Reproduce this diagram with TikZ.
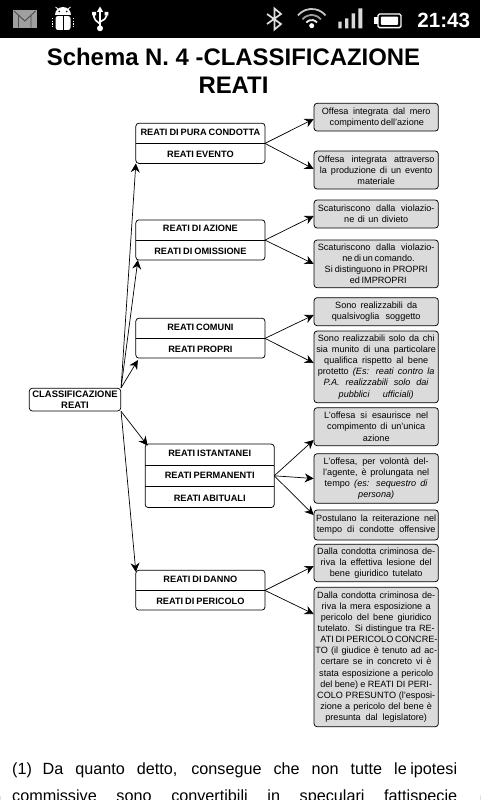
\documentclass[tikz,border=0pt]{standalone}
\usepackage{fontspec}
\setmainfont{Liberation Sans}
\newfontfamily\partfamily[WordSpace=0.78]{Liberation Sans}
\usetikzlibrary{arrows.meta}
\definecolor{boxgray}{gray}{0.86}
\newcommand{\fl}[2]{\makebox[#1pt][s]{#2}}

\tikzset{
  part/.style={minimum width=128.7pt, minimum height=19.8pt, inner sep=0pt, font=\partfamily\fontsize{9.2}{10}\selectfont\bfseries},
  parttop/.style={part, text depth=3pt},
  partbot/.style={part, text height=8.7pt},
  outer/.style={draw, rounded corners=3pt, line width=0.75pt},
  divider/.style={line width=0.75pt},
  note/.style={draw, fill=boxgray, rounded corners=3pt, line width=0.75pt, inner sep=0pt, minimum width=124.3pt, align=center, font=\fontsize{9.1}{11.1}\selectfont},
  branch/.style={->, line width=0.7pt},
  footline/.style={anchor=base west, inner sep=0pt, font=\fontsize{16.2}{18}\selectfont},
}

\begin{document}
\begin{tikzpicture}[x=1pt, y=-1pt, >={Stealth[length=9pt, width=9pt, inset=3pt]}]
  \useasboundingbox (0, 0) rectangle (480, 800);
  \clip (0, 0) rectangle (480, 800);

  % status bar
  \fill[black] (0, 0) rectangle (480, 38);
  % mail
  \fill[gray!75] (13, 10) rectangle (36.7, 27.7);
  \draw[black!70, line width=0.9pt] (14, 11) -- (24.8, 21) -- (35.6, 11) (18.5, 27.7) -- (18.5, 16) (31, 27.7) -- (31, 16);
  % android
  \fill[white] (55, 15) arc (180:360:8);
  \fill[white, rounded corners=2.5pt] (55.5, 16) rectangle (70.5, 30);
  \draw[black, line width=0.7pt] (63, 16.5) -- (63, 30) (54, 15.7) -- (72, 15.7);
  \fill[black] (59.3, 11.5) circle (0.9pt) (66.7, 11.5) circle (0.9pt);
  \draw[white, line width=0.8pt] (58, 9) -- (55.5, 7) (68, 9) -- (70.5, 7);
  \draw[white, line width=1.3pt, dash pattern=on 1.4pt off 1.2pt] (52.5, 18) -- (52.5, 27) (73.5, 18) -- (73.5, 27);
  % usb
  \draw[white, line width=1.8pt] (100, 10) -- (100, 27);
  \draw[white, line width=1.6pt, rounded corners=2pt] (94, 14) -- (94, 19) -- (100, 24) (106.5, 14) -- (106.5, 18) -- (100, 22);
  \fill[white] (100, 28.3) circle (3pt);
  \fill[white] (100, 6.5) -- (96.8, 12) -- (103.2, 12) -- cycle;
  \fill[white] (92, 12) rectangle (96, 15.5) (104.6, 12) rectangle (108.4, 15.5);
  % bluetooth
  \draw[gray!25, line width=1.7pt] (267, 14) -- (281, 24) -- (274.5, 29.5) -- (274.5, 8.5) -- (281, 14) -- (267, 24);
  % wifi
  \draw[gray!45, line width=1.8pt] (297.9, 15.4) arc (220:320:18);
  \draw[gray!75, line width=1.8pt] (302.5, 19.3) arc (220:320:12);
  \draw[gray!15, line width=1.8pt] (306.3, 22.5) arc (220:320:7);
  \fill[white] (311.7, 25.7) circle (2.5pt);
  % signal
  \fill[gray!30] (338.3, 21.7) rectangle (341.7, 28.3) (345, 18.3) rectangle (348.3, 28.3);
  \fill[gray!30] (351.7, 13.3) rectangle (355, 28.3) (358.3, 8.3) rectangle (362.3, 28.3);
  % battery
  \draw[white, line width=1.4pt, rounded corners=1.5pt] (378, 14) rectangle (401, 27.6);
  \fill[white] (374.3, 16.7) rectangle (377.7, 24);
  \fill[white, rounded corners=1pt] (380.8, 16.6) rectangle (398.2, 25);
  \node[text=white, anchor=east, font=\fontsize{20.6}{24}\selectfont\bfseries, inner sep=0pt] (clock) at (470.3, 20.3) {21:43};

  % title
  \node[align=center, inner sep=0pt, font=\fontsize{23.9}{27.5}\selectfont\bfseries] (title) at (233.5, 71) {Schema N. 4 -CLASSIFICAZIONE\\REATI};

  % root
  \node[draw, rounded corners=3pt, line width=0.75pt, minimum width=91.4pt, minimum height=22.7pt, inner sep=0pt, align=center, font=\fontsize{9.4}{11.6}\selectfont\bfseries] (root) at (75, 399.6) {CLASSIFICAZIONE\\REATI};

  % left groups
  \node[parttop] (pura) at (200.4, 133.3) {REATI DI PURA CONDOTTA};
  \node[partbot] (evento) at (200.4, 153.3) {REATI EVENTO};
  \node[parttop] (azione) at (200.4, 230) {REATI DI AZIONE};
  \node[partbot] (omissione) at (200.4, 250) {REATI DI OMISSIONE};
  \node[parttop] (comuni) at (200.4, 328.3) {REATI COMUNI};
  \node[partbot] (propri) at (200.4, 348) {REATI PROPRI};
  \node[parttop, minimum height=21pt] (istantanei) at (209.7, 454.8) {REATI ISTANTANEI};
  \node[part, minimum height=21pt] (permanenti) at (209.7, 475.8) {REATI PERMANENTI};
  \node[partbot, minimum height=21pt] (abituali) at (209.7, 496.8) {REATI ABITUALI};
  \node[parttop] (danno) at (200.4, 580.3) {REATI DI DANNO};
  \node[partbot] (pericolo) at (200.4, 600) {REATI DI PERICOLO};

  \draw[outer] (pura.north west) rectangle (evento.south east);
  \draw[outer] (azione.north west) rectangle (omissione.south east);
  \draw[outer] (comuni.north west) rectangle (propri.south east);
  \draw[outer] (istantanei.north west) rectangle (abituali.south east);
  \draw[outer] (danno.north west) rectangle (pericolo.south east);
  \draw[divider] (pura.south west) -- (pura.south east);
  \draw[divider] (azione.south west) -- (azione.south east);
  \draw[divider] (comuni.south west) -- (comuni.south east);
  \draw[divider] (istantanei.south west) -- (istantanei.south east);
  \draw[divider] (permanenti.south west) -- (permanenti.south east);
  \draw[divider] (danno.south west) -- (danno.south east);

  % right notes
  \node[note, minimum height=27.7pt] (mero) at (376.2, 117.2) {\fl{108.7}{Offesa integrata dal mero}\\\fl{93}{compimento dell'azione}};
  \node[note, minimum height=38pt] (attr) at (376.2, 170) {\fl{116.7}{Offesa integrata attraverso}\\\fl{112.7}{la produzione di un evento}\\materiale};
  \node[note, minimum height=28pt] (divieto) at (376.2, 214) {\fl{116.7}{Scaturiscono dalla violazio-}\\\fl{64}{ne di un divieto}};
  \node[note, minimum height=47.7pt] (comando) at (376.2, 263.9) {\fl{116.7}{Scaturiscono dalla violazio-}\\\fl{67.7}{ne di un comando.}\\\fl{103}{Si distinguono in PROPRI}\\\fl{52.7}{ed IMPROPRI}};
  \node[note, minimum height=28pt] (sogg) at (376.2, 311.7) {\fl{82}{Sono realizzabili da}\\\fl{88.7}{qualsivoglia soggetto}};
  \node[note, minimum height=71.7pt] (qual) at (376.2, 366.9) {\fl{116.7}{Sono realizzabili solo da chi}\\\fl{119.7}{sia munito di una particolare}\\\fl{104}{qualifica rispetto al bene}\\\fl{116.7}{protetto \textit{(Es: reati contro la}}\\\fl{105}{\textit{P.A. realizzabili solo dai}}\\\fl{75}{\textit{pubblici ufficiali)}}};
  \node[note, minimum height=38pt] (unica) at (376.2, 426.7) {\fl{104}{L'offesa si esaurisce nel}\\\fl{98}{compimento di un'unica}\\azione};
  \node[note, minimum height=49.6pt] (volonta) at (376.2, 478.5) {\fl{105}{L'offesa, per volontà del-}\\\fl{106}{l'agente, è prolungata nel}\\\fl{103}{tempo \textit{(es: sequestro di}}\\\textit{persona)}};
  \node[note, minimum height=30pt] (reit) at (376.2, 525) {\fl{120}{Postulano la reiterazione nel}\\\fl{118.7}{tempo di condotte offensive}};
  \node[note, minimum height=37.4pt] (lesione) at (376.2, 563) {\fl{118}{Dalla condotta criminosa de-}\\\fl{111}{riva la effettiva lesione del}\\\fl{92.7}{bene giuridico tutelato}};
  \node[note, minimum height=139.4pt] (espos) at (376.2, 657) {\fl{118}{Dalla condotta criminosa de-}\\\fl{109}{riva la mera esposizione a}\\\fl{110.7}{pericolo del bene giuridico}\\\fl{117}{tutelato. Si distingue tra RE-}\\\fl{111.7}{ATI DI PERICOLO CONCRE-}\\\fl{121.7}{TO (il giudice è tenuto ad ac-}\\\fl{110.7}{certare se in concreto vi è}\\\fl{114}{stata esposizione a pericolo}\\\fl{111.7}{del bene) e REATI DI PERI-}\\\fl{118}{COLO PRESUNTO (l'esposi-}\\\fl{111.7}{zione a pericolo del bene è}\\\fl{101.7}{presunta dal legislatore)}};

  % arrows from root
  \draw[branch] (root.north east) -- (evento.south west);
  \draw[branch] (root.north east) -- ([xshift=2pt]omissione.south west);
  \draw[branch] (root.north east) -- ([xshift=2pt, yshift=-2pt]propri.south west);
  \draw[branch] (root.south east) -- ([xshift=2.4pt, yshift=-1.4pt]istantanei.north west);
  \draw[branch] (root.south east) -- ([yshift=-1.7pt]danno.north west);

  % arrows to notes
  \draw[branch] (pura.south east) -- ([yshift=-1.8pt]mero.west);
  \draw[branch] (pura.south east) -- ([yshift=1pt]attr.west);
  \draw[branch] (azione.south east) -- ([yshift=-2pt]divieto.west);
  \draw[branch] (azione.south east) -- (comando.west);
  \draw[branch] (comuni.south east) -- ([yshift=-3.3pt]sogg.west);
  \draw[branch] (comuni.south east) -- ([yshift=3.9pt]qual.west);
  \draw[branch] (permanenti.east) -- ([yshift=-13.3pt]unica.west);
  \draw[branch] (permanenti.east) -- (volonta.west);
  \draw[branch] (permanenti.east) -- ([yshift=10pt]reit.west);
  \draw[branch] (danno.south east) -- ([yshift=-3pt]lesione.west);
  \draw[branch] (danno.south east) -- ([yshift=43pt]espos.west);

  % footnote text
  \node[footline] (fn1) at (12, 774) {\makebox[445pt][s]{(1)\hskip 4pt plus 2pt Da quanto detto, consegue che non tutte le\kern 3.5pt ipotesi}};
  \node[footline] (fn2) at (12, 801) {\makebox[445pt][s]{commissive sono convertibili in speculari fattispecie}};

  % rounded page corners
  \fill[black] (0, 800) -- (0, 796) arc (180:90:-4) -- cycle;
  \fill[black] (480, 800) -- (480, 796) arc (0:90:-4) -- cycle;
\end{tikzpicture}
\end{document}
